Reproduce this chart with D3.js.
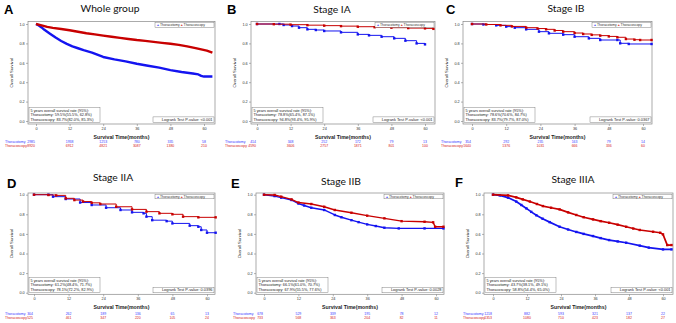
<!DOCTYPE html>
<html>
<head>
<meta charset="utf-8">
<script src="https://cdn.jsdelivr.net/npm/d3@7"></script>
<style>
  body { margin: 0; background: #fff; }
  svg { display: block; }
</style>
</head>
<body>
<svg id="fig" width="676" height="323"></svg>
<script>
const xTicks = [0, 12, 24, 36, 48, 60]
const yTicks = [0, 0.2, 0.4, 0.6, 0.8, 1.0]
const groups = ['Thoracotomy', 'Thoracoscopy']

// A - whole group  [month, survival]
const wholeOpen = [[0,1],[1,0.985],[2,0.965],[3,0.94],[5,0.9],[7,0.86],[9,0.825],[11,0.795],[13,0.77],[15,0.75],[17,0.73],[20,0.705],[24,0.66],[28,0.635],[32,0.615],[36,0.59],[40,0.57],[44,0.55],[48,0.525],[52,0.505],[56,0.49],[58,0.48],[59,0.465],[60,0.458],[63,0.458]]
const wholeScope = [[0,1],[2,0.985],[4,0.97],[6,0.96],[9,0.948],[12,0.935],[15,0.92],[18,0.905],[21,0.893],[24,0.88],[27,0.868],[30,0.857],[33,0.846],[36,0.835],[39,0.826],[42,0.816],[45,0.806],[48,0.796],[51,0.785],[54,0.77],[57,0.752],[59,0.738],[61,0.725],[63,0.705]]
const wholeRiskOpen = [2985, 1938, 1253, 780, 335, 58]
const wholeRiskScope = [8920, 6912, 4821, 3087, 1380, 210]
const wholeRates = ['59.5%(55.5%, 62.8%)', '83.7%(82.0%, 85.3%)']

// B - stage IA
const iaOpen = [[0,1],[8,1],[9.5,0.99],[12.5,0.979],[15,0.962],[18,0.945],[21,0.938],[24,0.928],[30,0.914],[36,0.893],[40,0.883],[44.5,0.869],[49,0.852],[53,0.828],[57,0.8],[60,0.79]]
const iaScope = [[0,1],[6,0.998],[12,0.993],[18,0.988],[24,0.983],[30,0.978],[36,0.972],[42,0.967],[48,0.962],[54,0.958],[60,0.955],[63,0.95]]
const iaRiskOpen = [414, 348, 252, 172, 79, 13]
const iaRiskScope = [4590, 3606, 2757, 1871, 801, 100]
const iaRates = ['78.8%(65.4%, 87.1%)', '94.8%(93.4%, 95.9%)']

// C - stage IB
const ibOpen = [[0,1],[4,0.995],[8.5,0.986],[12,0.973],[15,0.962],[19,0.945],[23.5,0.921],[27,0.904],[32,0.89],[36,0.869],[41,0.852],[45,0.835],[51,0.835],[52,0.801],[55,0.794],[63,0.794]]
const ibScope = [[0,1],[5,0.995],[10,0.986],[14,0.975],[19,0.962],[23,0.953],[26,0.945],[29,0.933],[32,0.921],[36,0.907],[39,0.897],[42,0.888],[45,0.88],[48,0.872],[51,0.863],[54,0.845],[57,0.838],[59,0.835],[63,0.835]]
const ibRiskOpen = [354, 292, 235, 163, 79, 14]
const ibRiskScope = [1640, 1376, 1031, 666, 336, 60]
const ibRates = ['78.6%(70.6%, 84.7%)', '83.7%(79.7%, 87.0%)']

// D - stage IIA
const iiaOpen = [[0,1],[5,1],[6.6,0.98],[11,0.956],[16,0.92],[20,0.895],[25,0.867],[30,0.844],[34,0.82],[38,0.81],[39,0.776],[41,0.74],[46,0.73],[48,0.707],[54,0.684],[57,0.673],[58,0.64],[60,0.612],[63,0.612]]
const iiaScope = [[0,1],[5,0.997],[7.7,0.993],[11,0.963],[14,0.945],[17,0.93],[20,0.917],[23,0.905],[28.5,0.877],[34,0.85],[39,0.827],[43.5,0.81],[48,0.8],[51.7,0.776],[57,0.769],[63,0.769]]
const iiaRiskOpen = [304, 262, 189, 136, 65, 13]
const iiaRiskScope = [525, 461, 347, 220, 105, 24]
const iiaRates = ['61.2%(48.4%, 71.7%)', '78.1%(72.2%, 82.9%)']

// E - stage IIB
const iibOpen = [[0,1],[3.7,0.986],[6,0.97],[9.6,0.946],[12,0.91],[14,0.89],[16.5,0.867],[21,0.844],[24.7,0.793],[27,0.77],[30.5,0.74],[33,0.72],[36,0.697],[39,0.68],[42,0.663],[47,0.656],[56,0.656],[62.6,0.656]]
const iibScope = [[0,1],[3.7,0.997],[6,0.98],[9.6,0.952],[12,0.92],[16.5,0.905],[21,0.877],[24.7,0.844],[30.5,0.816],[36,0.786],[42,0.759],[48,0.73],[56,0.724],[59,0.718],[59.7,0.673],[62.6,0.673]]
const iibRiskOpen = [678, 529, 339, 195, 78, 12]
const iibRiskScope = [733, 568, 363, 204, 82, 11]
const iibRates = ['66.1%(61.0%, 70.7%)', '67.9%(55.5%, 77.6%)']

// F - stage IIIA
const iiiaOpen = [[0,1],[2.4,0.993],[5.3,0.97],[8.2,0.93],[10,0.895],[11.8,0.86],[13.5,0.825],[15.3,0.79],[17.5,0.755],[20,0.72],[23.5,0.673],[26.5,0.645],[29.4,0.62],[32,0.6],[35.3,0.578],[38,0.557],[41,0.537],[44,0.523],[47,0.51],[51.8,0.48],[55,0.46],[60,0.442],[63,0.442]]
const iiiaScope = [[0,1],[5.3,0.993],[8.2,0.973],[10.5,0.952],[13,0.93],[15.5,0.905],[17.6,0.884],[20.5,0.867],[23.5,0.85],[26.5,0.82],[29.4,0.793],[32,0.77],[35.3,0.748],[38,0.73],[41,0.714],[44,0.694],[47,0.673],[49.5,0.655],[51.8,0.64],[56.5,0.622],[59,0.612],[60,0.595],[61.5,0.486],[63,0.486]]
const iiiaRiskOpen = [1218, 882, 593, 321, 137, 22]
const iiiaRiskScope = [1353, 1080, 710, 423, 182, 27]
const iiiaRates = ['43.7%(38.1%, 49.1%)', '58.8%(54.4%, 65.0%)']

const letters = ['A', 'B', 'C', 'D', 'E', 'F']
const titles = ['Whole group', 'Stage IA', 'Stage IB', 'Stage IIA', 'Stage IIB', 'Stage IIIA']
const pValues = ['<0.001', '<0.001', '0.0367', '0.0396', '0.0028', '<0.001']

const panels = [
  { open: wholeOpen, scope: wholeScope, riskOpen: wholeRiskOpen, riskScope: wholeRiskScope, rates: wholeRates },
  { open: iaOpen, scope: iaScope, riskOpen: iaRiskOpen, riskScope: iaRiskScope, rates: iaRates },
  { open: ibOpen, scope: ibScope, riskOpen: ibRiskOpen, riskScope: ibRiskScope, rates: ibRates },
  { open: iiaOpen, scope: iiaScope, riskOpen: iiaRiskOpen, riskScope: iiaRiskScope, rates: iiaRates },
  { open: iibOpen, scope: iibScope, riskOpen: iibRiskOpen, riskScope: iibRiskScope, rates: iibRates },
  { open: iiiaOpen, scope: iiiaScope, riskOpen: iiiaRiskOpen, riskScope: iiiaRiskScope, rates: iiiaRates }
]

// pixel layout of each panel
const topRow = { top: 21.5, bottom: 124, y0: 121, y1: 24, axisTitleY: 139.3, riskY: 143.3 }
const botRow = { top: 193, bottom: 294.3, y0: 292.7, y1: 194.7, axisTitleY: 309, riskY: 315.3 }
const layouts = [
  { ...topRow, left: 28, right: 215, x0: 36, x60: 204, letterX: 4, letterY: 13.5, titleX: 110, titleY: 11.5, labelX: 5, lw: 2.4, step: false, marks: false },
  { ...topRow, left: 251, right: 435, x0: 257, x60: 425, letterX: 227, letterY: 13.5, titleX: 332, titleY: 12.5, labelX: 225, lw: 1, step: true, marks: true },
  { ...topRow, left: 463, right: 652, x0: 472, x60: 643, letterX: 446, letterY: 13.5, titleX: 566, titleY: 12, labelX: 441, lw: 1, step: true, marks: true },
  { ...botRow, left: 28, right: 215, x0: 34, x60: 207, letterX: 7, letterY: 188, titleX: 113, titleY: 180.5, labelX: 5, lw: 1, step: true, marks: true },
  { ...botRow, left: 256, right: 444, x0: 264, x60: 436, letterX: 231, letterY: 187.5, titleX: 341, titleY: 184.5, labelX: 233, lw: 1.4, step: false, marks: true },
  { ...botRow, left: 484, right: 673, x0: 493, x60: 663, letterX: 455, letterY: 186.5, titleX: 573, titleY: 183, labelX: 463, lw: 1.7, step: false, marks: true }
]

const BLUE = '#1414f0', RED = '#c80000'
const BLUE_TXT = '#3a3aff', RED_TXT = '#d42020'
const SANS = 'Liberation Sans, Arial, sans-serif'

const svg = d3.select('#fig')

panels.forEach((p, i) => drawPanel(p, layouts[i], i))

function drawPanel(p, L, i) {
  const g = svg.append('g')
  const x = d3.scaleLinear().domain([0, 60]).range([L.x0, L.x60])
  const y = d3.scaleLinear().domain([0, 1]).range([L.y0, L.y1])
  const midX = (L.left + L.right) / 2

  // panel letter + title
  g.append('text').attr('x', L.letterX).attr('y', L.letterY)
    .attr('font-family', SANS).attr('font-weight', 'bold').attr('font-size', 13)
    .text(letters[i])
  g.append('text').attr('x', L.titleX).attr('y', L.titleY).attr('text-anchor', 'middle')
    .attr('font-family', 'Lato, Open Sans, sans-serif').attr('font-size', 10.3).attr('fill', '#111')
    .text(titles[i])

  // axes
  const xa = g.append('g').attr('transform', 'translate(0,' + L.bottom + ')')
    .call(d3.axisBottom(x).tickValues(xTicks).tickSize(2).tickPadding(1.3))
  const ya = g.append('g').attr('transform', 'translate(' + L.left + ',0)')
    .call(d3.axisLeft(y).tickValues(yTicks).tickFormat(d3.format('.1f')).tickSize(2).tickPadding(1.3))
  ;[xa, ya].forEach(function (a) {
    a.select('.domain').remove()
    a.selectAll('text').attr('font-size', 3.8).attr('font-family', SANS).attr('fill', '#333')
    a.selectAll('line').attr('stroke', '#666').attr('stroke-width', 0.5)
  })

  // axis titles
  g.append('text').attr('x', midX).attr('y', L.axisTitleY).attr('text-anchor', 'middle')
    .attr('font-family', SANS).attr('font-weight', 'bold').attr('font-size', 5.2).attr('fill', '#222')
    .text('Survival Time(months)')
  g.append('text')
    .attr('transform', 'translate(' + (L.left - 15.5) + ',' + (L.top + L.bottom) / 2 + ') rotate(-90)')
    .attr('text-anchor', 'middle')
    .attr('font-family', SANS).attr('font-size', 4.2).attr('fill', '#222')
    .text('Overall Survival')

  // frame
  g.append('rect').attr('x', L.left).attr('y', L.top)
    .attr('width', L.right - L.left).attr('height', L.bottom - L.top)
    .attr('fill', 'none').attr('stroke', '#888').attr('stroke-width', 0.7)

  // curves
  const line = d3.line()
    .x(function (d) { return x(d[0]) })
    .y(function (d) { return y(d[1]) })
    .curve(L.step ? d3.curveStepAfter : d3.curveLinear)
  ;[[p.open, BLUE], [p.scope, RED]].forEach(function (s) {
    g.append('path').datum(s[0])
      .attr('fill', 'none').attr('stroke', s[1]).attr('stroke-width', L.lw)
      .attr('stroke-linejoin', 'round')
      .attr('d', line)
    if (L.marks) {
      g.selectAll(null).data(s[0]).join('rect')
        .attr('x', function (d) { return x(d[0]) - 1.2 })
        .attr('y', function (d) { return y(d[1]) - 1.2 })
        .attr('width', 2.4).attr('height', 2.4)
        .attr('fill', s[1])
    }
  })

  // legend box (top right)
  const lgW = 59, lgH = 4.6
  const lg = g.append('g').attr('transform', 'translate(' + (L.right - 1 - lgW) + ',' + (L.top + 1.2) + ')')
  lg.append('rect').attr('width', lgW).attr('height', lgH)
    .attr('fill', '#fff').attr('stroke', '#666').attr('stroke-width', 0.4)
  const lt = lg.append('text').attr('x', 2).attr('y', 3.5)
    .attr('font-family', SANS).attr('font-size', 3.4).attr('fill', '#333')
  lt.append('tspan').attr('fill', BLUE).attr('font-weight', 'bold').text('+ ')
  lt.append('tspan').text(groups[0] + '  ')
  lt.append('tspan').attr('fill', RED).attr('font-weight', 'bold').text('+ ')
  lt.append('tspan').text(groups[1])

  // 5-year box (bottom left)
  const bxW = 71, bxH = 15
  const bx = g.append('g').attr('transform', 'translate(' + (L.left + 1) + ',' + (L.bottom - 1.5 - bxH) + ')')
  bx.append('rect').attr('width', bxW).attr('height', bxH)
    .attr('fill', '#fff').attr('stroke', '#666').attr('stroke-width', 0.4)
  const lines = ['5 years overall survival rate (95%):',
    groups[0] + ': ' + p.rates[0],
    groups[1] + ': ' + p.rates[1]]
  bx.selectAll('text').data(lines).join('text')
    .attr('x', 1.5).attr('y', function (d, k) { return 4.2 + k * 4.4 })
    .attr('font-family', SANS).attr('font-size', 3.8).attr('fill', '#222')
    .text(function (d) { return d })

  // logrank box (bottom right)
  const lrW = 61, lrH = 5.6
  const lr = g.append('g').attr('transform', 'translate(' + (L.right - 1 - lrW) + ',' + (L.bottom - 1.5 - lrH) + ')')
  lr.append('rect').attr('width', lrW).attr('height', lrH)
    .attr('fill', '#fff').attr('stroke', '#666').attr('stroke-width', 0.4)
  lr.append('text').attr('x', lrW - 1.5).attr('y', 4.2).attr('text-anchor', 'end')
    .attr('font-family', SANS).attr('font-size', 3.9).attr('fill', '#222')
    .text('Logrank Test P-value: ' + pValues[i])

  // numbers at risk
  const rows = [[groups[0], p.riskOpen, BLUE_TXT, L.riskY], [groups[1], p.riskScope, RED_TXT, L.riskY + 4.1]]
  rows.forEach(function (r) {
    g.append('text').attr('x', L.labelX).attr('y', r[3])
      .attr('font-family', SANS).attr('font-size', 3.5).attr('fill', r[2])
      .text(r[0])
    g.selectAll(null).data(r[1]).join('text')
      .attr('x', function (d, k) { return k === 0 ? L.x0 - 1 : x(xTicks[k]) })
      .attr('y', r[3])
      .attr('text-anchor', function (d, k) { return k === 0 ? 'end' : 'middle' })
      .attr('font-family', SANS).attr('font-size', 3.5).attr('fill', r[2])
      .text(function (d) { return d })
  })
}
</script>
</body>
</html>
